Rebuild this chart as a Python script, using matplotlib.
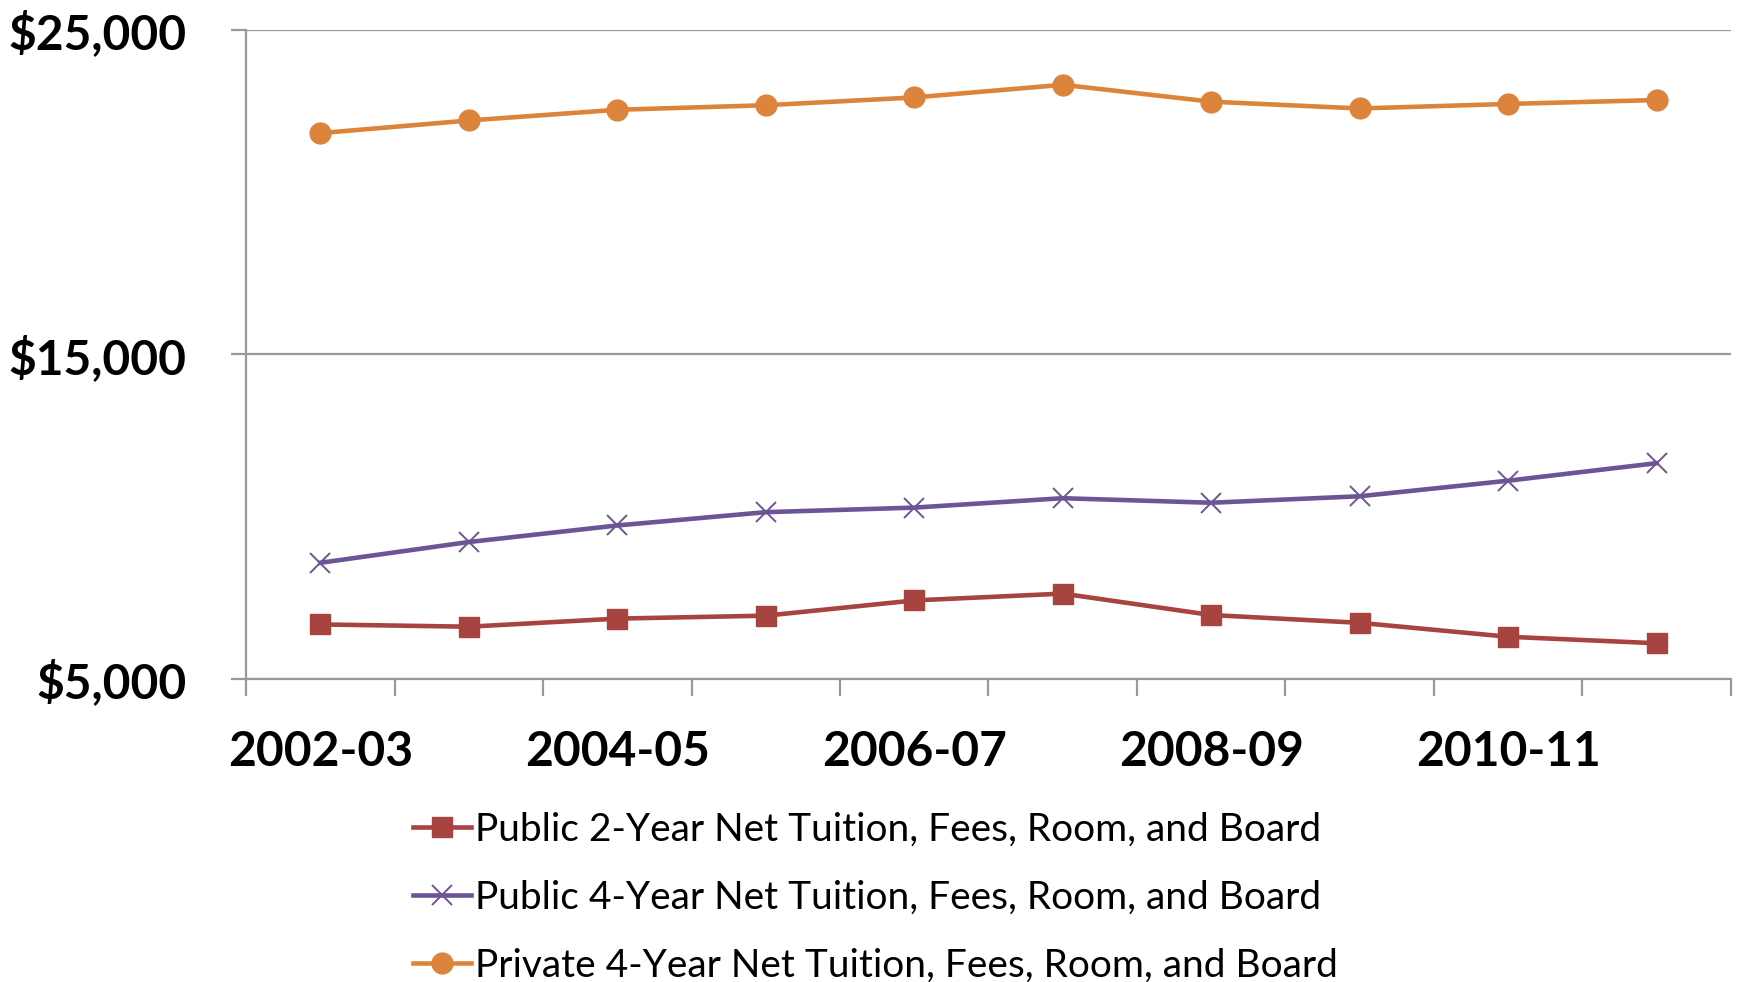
import matplotlib.pyplot as plt
from matplotlib.ticker import FixedLocator

years = ["2002-03", "2003-04", "2004-05", "2005-06", "2006-07",
         "2007-08", "2008-09", "2009-10", "2010-11", "2011-12"]
public2 = [6680, 6610, 6860, 6950, 7420, 7630, 6970, 6730, 6300, 6100]
public4 = [8580, 9220, 9730, 10140, 10280, 10570, 10430, 10630, 11110, 11650]
private4 = [21820, 22210, 22540, 22680, 22920, 23310, 22790, 22580, 22720, 22840]

labels = ["Public 2-Year Net Tuition, Fees, Room, and Board",
          "Public 4-Year Net Tuition, Fees, Room, and Board",
          "Private 4-Year Net Tuition, Fees, Room, and Board"]

plt.rcParams['font.family'] = ['Lato', 'DejaVu Sans']

fig = plt.figure(figsize=(17.4, 9.82), dpi=100)
ax = fig.add_axes([0.1414, 0.3086, 0.8534, 0.6609])

x = [i + 0.5 for i in range(len(years))]
ax.plot(x, public2, color="#A8443F", lw=3.3, marker="s", ms=15, label=labels[0], zorder=3)
ax.plot(x, public4, color="#6B5594", lw=3.3, marker="x", ms=15, mew=1.4, label=labels[1], zorder=3)
ax.plot(x, private4, color="#DD843C", lw=3.3, marker="o", ms=15, label=labels[2], zorder=3)

ax.set_xlim(0, len(years))
ax.set_ylim(5000, 25000)

# y axis
ax.set_yticks([5000, 15000, 25000])
ax.set_yticklabels(["$5,000", "$15,000", "$25,000"], fontsize=34.5, fontweight="bold")
ax.yaxis.grid(True, color="#999999", lw=1.6)
ax.set_axisbelow(True)

# x axis: ticks between categories, labels every other year
ax.xaxis.set_major_locator(FixedLocator(range(len(years) + 1)))
ax.set_xticklabels([])
ax.xaxis.set_minor_locator(FixedLocator(x[::2]))
ax.set_xticklabels(years[::2], minor=True, fontsize=34.5, fontweight="bold")
ax.tick_params(axis="x", which="minor", length=0, pad=37)
ax.tick_params(axis="x", which="major", length=12, width=1.6, color="#999999")
ax.tick_params(axis="y", length=11, width=1.6, color="#999999", pad=32)

for s in ["top", "right"]:
    ax.spines[s].set_visible(False)
for s in ["left", "bottom"]:
    ax.spines[s].set_color("#999999")
    ax.spines[s].set_linewidth(1.6)

fig.legend(loc="center", bbox_to_anchor=(0.503, 0.086), frameon=False,
           fontsize=28, handlelength=1.5, handletextpad=0.1, labelspacing=0.83)

fig.savefig("out.png", dpi=100)
